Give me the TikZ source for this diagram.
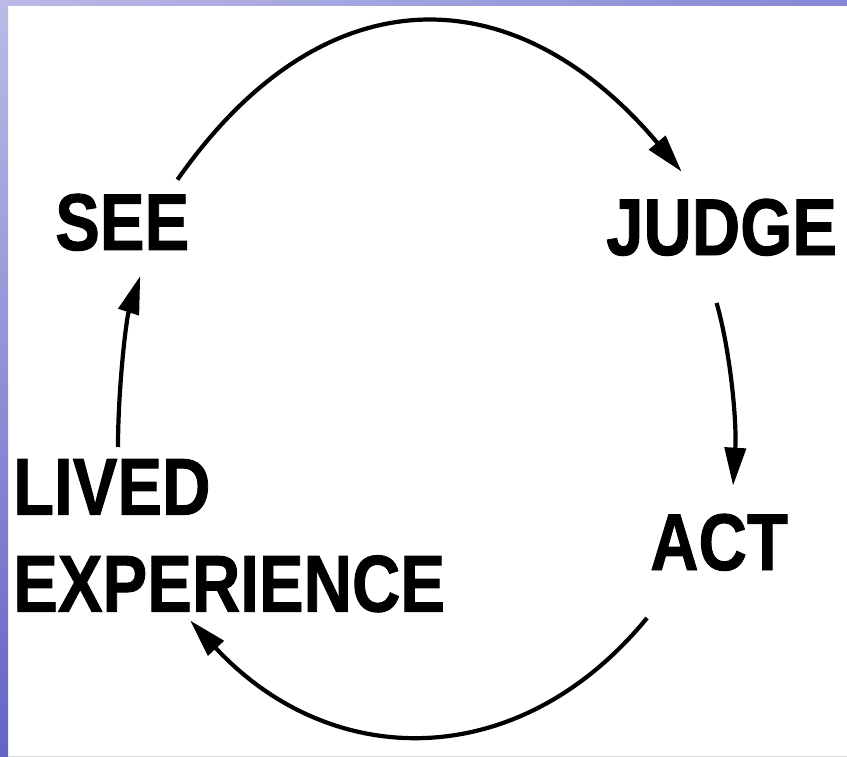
\documentclass[tikz,border=0pt]{standalone}
\usepackage{fontspec}
\setmainfont[BoldFeatures={FakeBold=1.2}]{Liberation Sans}
\usepackage{graphicx}
\usetikzlibrary{arrows.meta}

\definecolor{marcoclaro}{RGB}{186,186,230}
\definecolor{marcomedio}{RGB}{135,135,214}
\definecolor{marcooscuro}{RGB}{100,100,198}

\newcommand{\alto}[1]{\scalebox{1}[1.2]{#1}}

\begin{document}
\begin{tikzpicture}[
    x=1pt, y=-1pt,
    rotulo/.style={
        font=\fontsize{67pt}{97pt}\selectfont\bfseries,
        inner sep=0pt
    },
    curva/.style={-{Triangle[length=38pt,width=21pt]},line width=4.2pt}
]
\useasboundingbox (0,0) rectangle (847,757);
\fill[white] (0,0) rectangle (847,757);

% marco de la diapositiva
\shade[left color=marcoclaro, middle color=marcooscuro, right color=marcomedio] (0,0) rectangle (847,6);
\shade[top color=marcoclaro, bottom color=marcooscuro] (0,6) rectangle (8,757);
\draw[black!15, line width=1pt] (8,756) -- (847,756);

\node[rotulo, anchor=base west] (see) at (55,250) {\alto{SEE}};
\node[rotulo, anchor=base west] (judge) at (606,255) {\alto{JUDGE}};
\node[rotulo, anchor=base west] (act) at (650,570) {\alto{ACT}};
\node[rotulo, align=left, anchor=north west] (lived) at (13,459)
{\alto{LIVED}\\\alto{EXPERIENCE}};

\draw[curva] ([xshift=-12pt,yshift=14pt]see.north east)
    .. controls (324,-30) and (516,-25) .. ([xshift=-40pt,yshift=27pt]judge.north);
\draw[curva] ([xshift=-5pt,yshift=-47pt]judge.south)
    .. controls (730,350) and (737,420) .. ([xshift=14pt,yshift=28pt]act.north);
\draw[curva] ([xshift=-72pt,yshift=-47pt]act.south)
    .. controls (519,774) and (331,772) .. ([xshift=-39pt,yshift=-8pt]lived.south);
\draw[curva] ([xshift=105pt,yshift=12pt]lived.north west)
    .. controls (118,390) and (126,320) .. ([xshift=18pt,yshift=-25pt]see.south);

\end{tikzpicture}
\end{document}
